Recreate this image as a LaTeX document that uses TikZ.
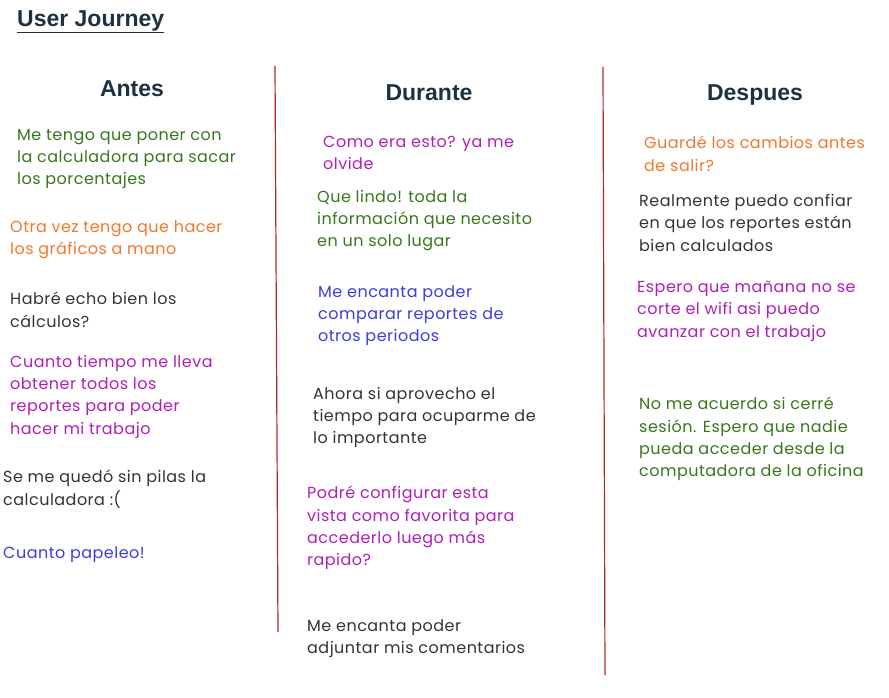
\documentclass[tikz,border=0pt]{standalone}
\usepackage{fontspec}
\setmainfont{Liberation Sans}
\newfontfamily\handfont[LetterSpace=3]{Poppins}
\definecolor{headblue}{HTML}{1B3242}
\definecolor{notegreen}{HTML}{38761D}
\definecolor{noteorange}{HTML}{F0782D}
\definecolor{notepink}{HTML}{B01EB8}
\definecolor{noteblue}{HTML}{3C3CE0}
\definecolor{notegray}{HTML}{333333}
\definecolor{sepred}{HTML}{B0262B}
\tikzset{
  heading/.style={font=\bfseries\fontsize{23}{26}\selectfont, text=headblue, inner sep=0},
  note/.style={font=\handfont\fontsize{16}{22.3}\selectfont, align=left, anchor=north west, inner sep=0},
  sepline/.style={draw=sepred, line width=1.2pt}
}
\begin{document}
\begin{tikzpicture}[x=1pt, y=-1pt]
  \useasboundingbox (0,0) rectangle (889,698);
  % Title
  \node[anchor=west, inner sep=0, font=\bfseries\fontsize{23}{26}\selectfont, text=headblue] (title) at (17,22) {\underline{User Journey}};
  % Column headings
  \node[heading] (antes) at (132,89) {Antes};
  \node[heading] (durante) at (429,93) {Durante};
  \node[heading] (despues) at (755,95) {Despues};
  % Separators
  \coordinate (s1top) at (275,66);
  \coordinate (s1bot) at (278,632);
  \coordinate (s2top) at (603,67);
  \coordinate (s2bot) at (605,675);
  \draw[sepline] (s1top) -- (s1bot);
  \draw[sepline] (s2top) -- (s2bot);
  % Antes
  \node[note, text=notegreen] (a1) at (17,129) {Me tengo que poner con\\la calculadora para sacar\\los porcentajes};
  \node[note, text=noteorange] (a2) at (10,220) {Otra vez tengo que hacer\\los gráficos a mano};
  \node[note, text=notegray] (a3) at (10,292) {Habré echo bien los\\cálculos?};
  \node[note, text=notepink] (a4) at (10,355) {Cuanto tiempo me lleva\\obtener todos los\\reportes para poder\\hacer mi trabajo};
  \node[note, text=notegray] (a5) at (3,470) {Se me quedó sin pilas la\\calculadora :(};
  \node[note, text=noteblue] (a6) at (3,546) {Cuanto papeleo!};
  % Durante
  \node[note, text=notepink] (d1) at (323,136) {Como era esto? ya me\\olvide};
  \node[note, text=notegreen] (d2) at (317,190) {Que lindo! toda la\\información que necesito\\en un solo lugar};
  \node[note, text=noteblue] (d3) at (318,285) {Me encanta poder\\comparar reportes de\\otros periodos};
  \node[note, text=notegray] (d4) at (313,387) {Ahora si aprovecho el\\tiempo para ocuparme de\\lo importante};
  \node[note, text=notepink] (d5) at (307,486) {Podré configurar esta\\vista como favorita para\\accederlo luego más\\rapido?};
  \node[note, text=notegray] (d6) at (307,619) {Me encanta poder\\adjuntar mis comentarios};
  % Despues
  \node[note, text=noteorange] (p1) at (644,136) {Guardé los cambios antes\\de salir?};
  \node[note, text=notegray] (p2) at (639,194) {Realmente puedo confiar\\en que los reportes están\\bien calculados};
  \node[note, text=notepink] (p3) at (637,281) {Espero que mañana no se\\corte el wifi asi puedo\\avanzar con el trabajo};
  \node[note, text=notegreen] (p4) at (639,397) {No me acuerdo si cerré\\sesión. Espero que nadie\\pueda acceder desde la\\computadora de la oficina};
\end{tikzpicture}
\end{document}
